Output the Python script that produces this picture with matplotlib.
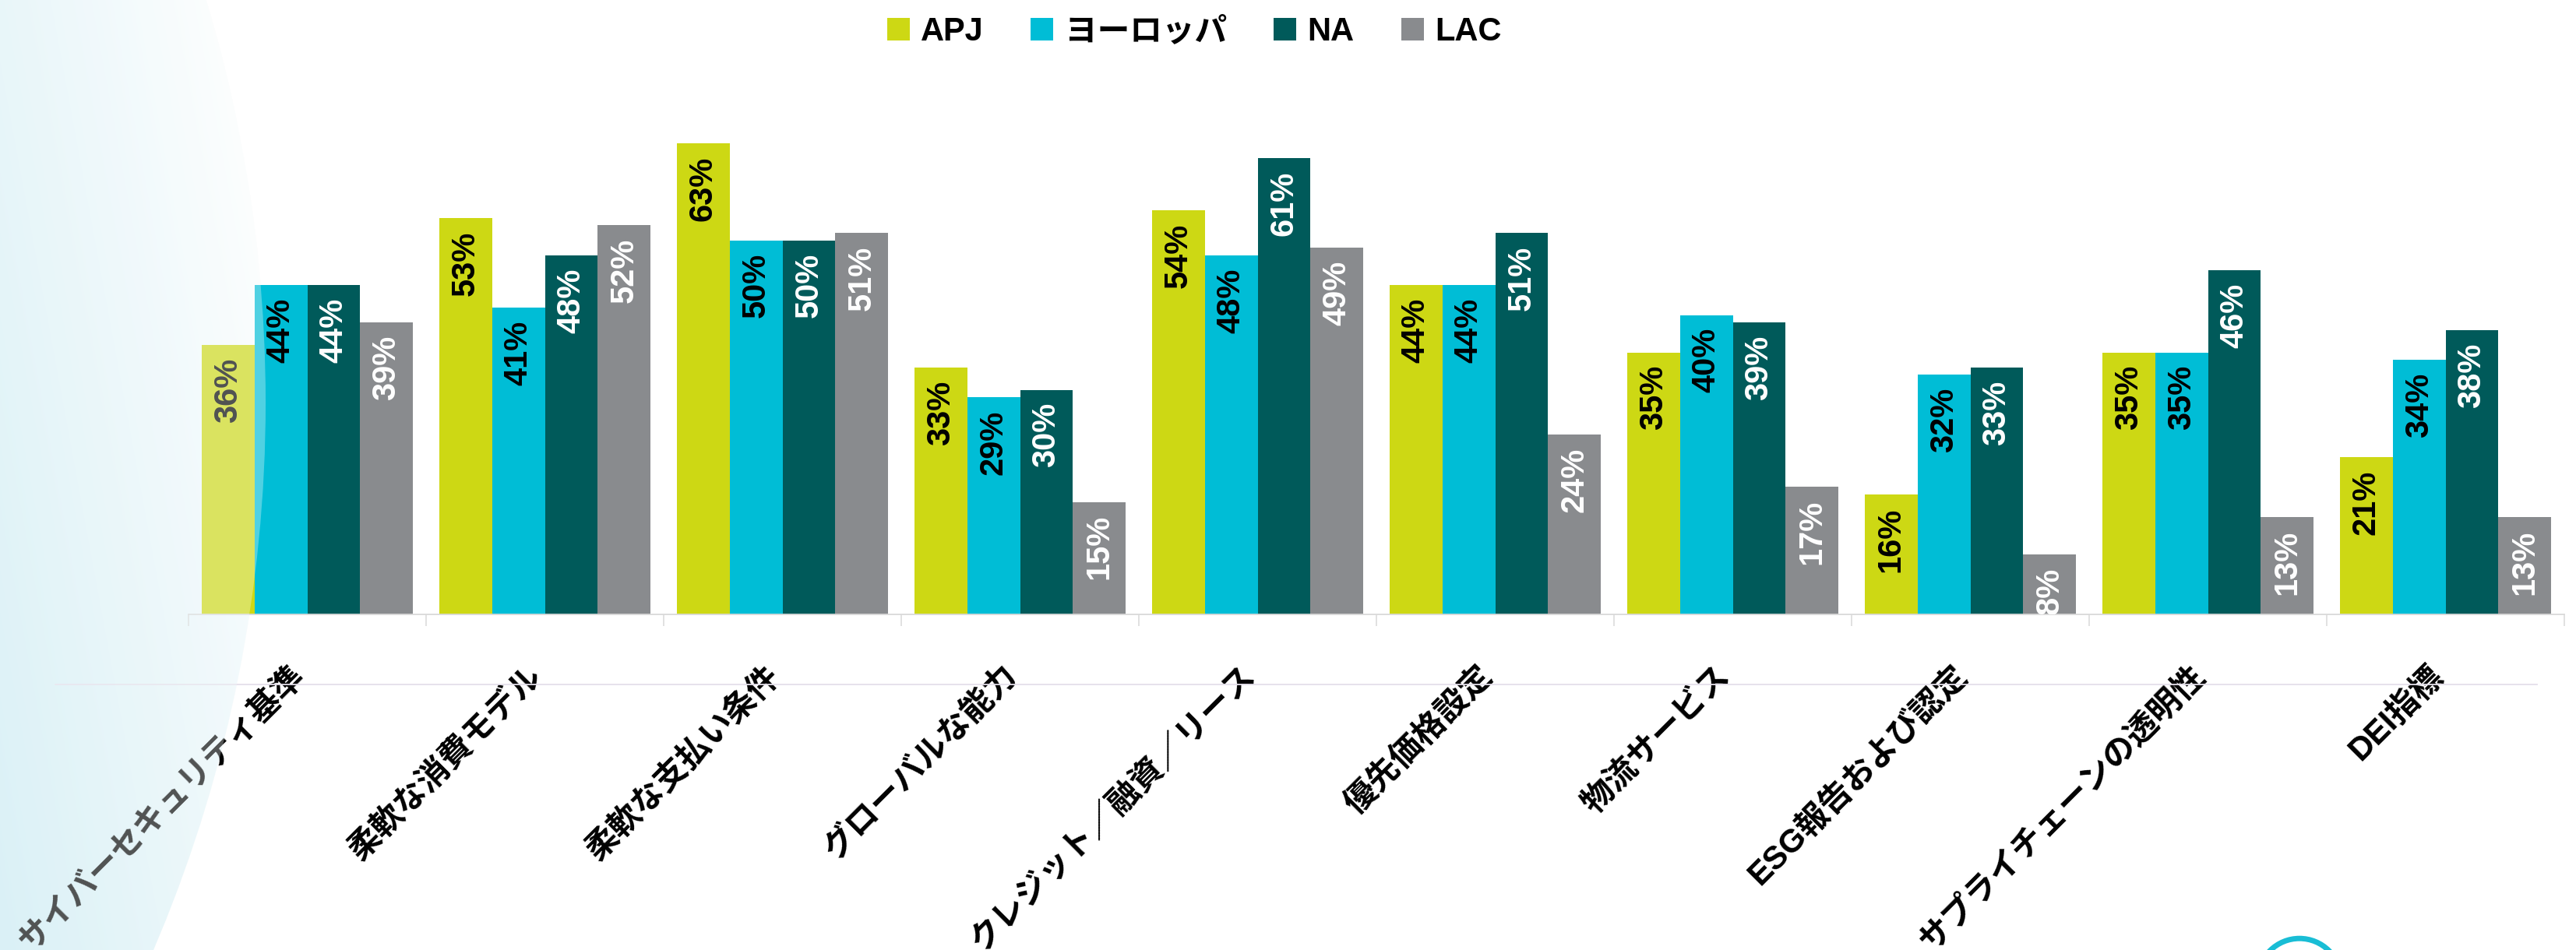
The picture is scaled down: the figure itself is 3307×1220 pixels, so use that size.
import numpy as np
import matplotlib

matplotlib.use("Agg")
import matplotlib.pyplot as plt  # noqa: E402
from matplotlib.lines import Line2D  # noqa: E402
from matplotlib.patches import Circle, Patch  # noqa: E402

W, H, DPI = 3307, 1220, 100
FONT = ["Liberation Sans", "Noto Sans CJK JP"]

categories = [
    "サイバーセキュリティ基準", "柔軟な消費モデル", "柔軟な支払い条件", "グローバルな能力",
    "クレジット／融資／リース", "優先価格設定", "物流サービス", "ESG報告および認定",
    "サプライチェーンの透明性", "DEI指標",
]
regions = ["APJ", "ヨーロッパ", "NA", "LAC"]
apj = [36, 53, 63, 33, 54, 44, 35, 16, 35, 21]
europe = [44, 41, 50, 29, 48, 44, 40, 32, 35, 34]
na = [44, 48, 50, 30, 61, 51, 39, 33, 46, 38]
lac = [39, 52, 51, 15, 49, 24, 17, 8, 13, 13]

COLORS = ["#CDD814", "#00BDD6", "#005A5A", "#898B8E"]
LABEL_COLORS = ["black", "black", "white", "white"]

fig = plt.figure(figsize=(W / DPI, H / DPI), dpi=DPI, facecolor="white")

# pixel-space layer for the decorative wash on the left
bg = fig.add_axes([0, 0, 1, 1], zorder=-1)
bg.set_xlim(0, W)
bg.set_ylim(H, 0)
bg.axis("off")
bg.patch.set_visible(False)

yy, xx = np.mgrid[0:H, 0:420]
f = np.clip((1 - xx / 300) * 0.6 + (yy / H) * 0.45 - 0.05, 0, 1)
base = np.array([205, 236, 244]) / 255
grad = np.ones((H, 420, 3)) * (1 - f[..., None]) + base * f[..., None]
im = bg.imshow(grad, extent=(0, 420, H, 0), interpolation="bilinear", aspect="auto")
im.set_clip_path(Circle((-1446, 517), 1787, transform=bg.transData))

# thin divider under the axis
fig.add_artist(Line2D([71 / W, 3257 / W], [1 - 878.7 / H] * 2, color="#E4DFEA", lw=1.3,
                      transform=fig.transFigure))

ax = fig.add_axes([242 / W, (H - 788.5) / H, 3050 / W, 624 / H])
ax.patch.set_visible(False)
ax.set_xlim(0, 10)
ax.set_ylim(0, 65)

bw = 0.2223
x = np.arange(len(categories)) + 0.5
for k, (vals, col, lc) in enumerate(zip([apj, europe, na, lac], COLORS, LABEL_COLORS)):
    xs = x + (k - 1.5) * bw
    ax.bar(xs, vals, bw, color=col, edgecolor="none", zorder=2)
    for xi, v in zip(xs, vals):
        t = ax.annotate(f"{v}%", xy=(xi, v), xytext=(0, -12), textcoords="offset points",
                        rotation=90, ha="center", va="top", fontsize=30, fontweight="bold",
                        color=lc, family="Liberation Sans", zorder=3)
        t.set_clip_on(True)
        t.set_clip_box(ax.bbox)

for side in ["top", "right", "left"]:
    ax.spines[side].set_visible(False)
ax.spines["bottom"].set_color("#D9D9D9")
ax.spines["bottom"].set_linewidth(1.3)
ax.set_yticks([])
ax.set_xticks(range(11))
ax.set_xticklabels([])
ax.tick_params(axis="x", length=11, width=1.1, color="#D9D9D9", direction="out")

for xi, name in zip(x, categories):
    ax.annotate(name, xy=(xi, 0), xytext=(3.5, -43), textcoords="offset points",
                rotation=45, ha="right", va="top", fontsize=30, fontweight="bold",
                family=FONT, color="black")

handles = [Patch(facecolor=c, edgecolor="none") for c in COLORS]
fig.legend(handles, regions, loc="center", bbox_to_anchor=(0.4636, 0.9664), ncol=4,
           frameon=False, prop={"family": FONT, "weight": "bold", "size": 30},
           handlelength=0.7, handleheight=0.7, handletextpad=0.34, columnspacing=1.45,
           borderpad=0)

# pale veil over the bars inside the same arc, plus the ring in the corner
fg = fig.add_axes([0, 0, 1, 1], zorder=10)
fg.set_xlim(0, W)
fg.set_ylim(H, 0)
fg.axis("off")
fg.patch.set_visible(False)
veil = np.zeros((H, 420, 4))
veil[..., :3] = np.array([245, 251, 252]) / 255
veil[..., 3] = 0.33
im2 = fg.imshow(veil, extent=(0, 420, H, 0), aspect="auto")
im2.set_clip_path(Circle((-1446, 517), 1787, transform=fg.transData))
fg.add_patch(Circle((2952, 1258.7), 53.5, fill=False, lw=5, color="#19BDD5"))
fg.set_xlim(0, W)
fg.set_ylim(H, 0)

fig.savefig("out.png", dpi=DPI, facecolor="white")
